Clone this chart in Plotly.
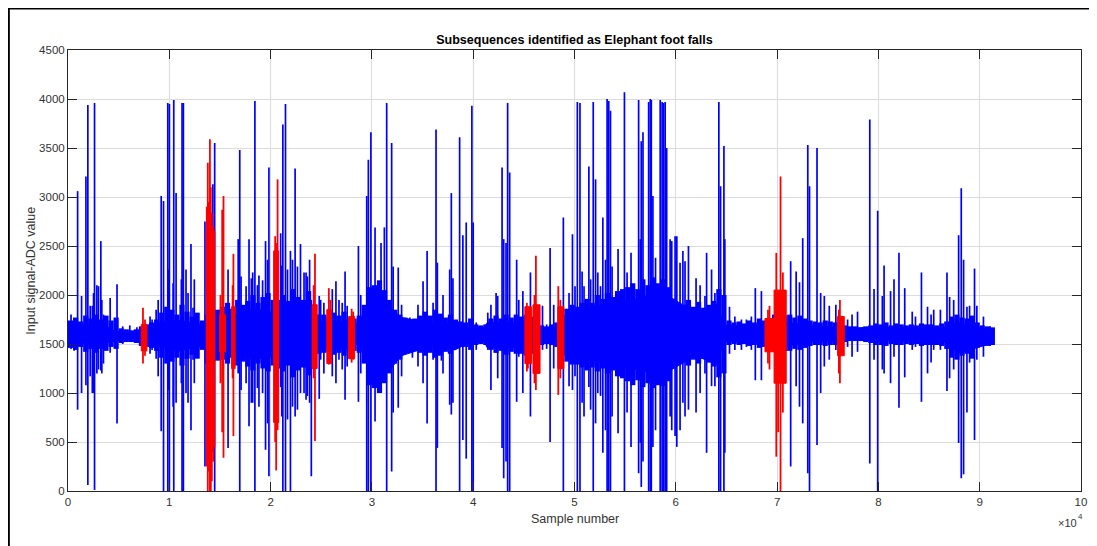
import plotly.graph_objects as go

# ---------------- data ----------------
# solid core of the blue signal (sample number, upper / lower ADC value)
band_x = [0, 1400, 3700, 4600, 5500, 7200, 7800, 9200, 11000, 13100,
          13800, 14500, 16400, 18500, 20300, 21000, 22800, 24300, 24600, 25600,
          27600, 28400, 29200, 30500, 31800, 32900, 35900, 38200, 39500, 41100,
          41400, 45000, 46700, 48300, 49000, 51300, 54500, 57000, 59400, 62000,
          64000, 64800, 68800, 70900, 73400, 76000, 76600, 78900, 86500, 88000,
          89700, 91300]
band_hi = [1690, 1700, 1690, 1630, 1620, 1620, 1670, 1720, 1740, 1700,
           1740, 1790, 1820, 1860, 1820, 1840, 1910, 1840, 1720, 1730,
           1730, 1700, 1800, 1960, 1870, 1770, 1710, 1730, 1670, 1670,
           1720, 1720, 1650, 1660, 1790, 1870, 1920, 1990, 1980, 1820,
           1910, 1690, 1680, 1720, 1690, 1670, 1650, 1670, 1670, 1720,
           1670, 1650]
band_lo = [1500, 1510, 1510, 1530, 1540, 1540, 1510, 1470, 1430, 1480,
           1450, 1410, 1390, 1340, 1380, 1360, 1290, 1370, 1460, 1460,
           1460, 1500, 1450, 1200, 1240, 1380, 1480, 1440, 1510, 1520,
           1460, 1460, 1520, 1520, 1390, 1340, 1270, 1220, 1230, 1380,
           1290, 1520, 1530, 1480, 1520, 1530, 1540, 1530, 1520, 1410,
           1460, 1510]

# per-500-sample extent of the dense oscillation (centre sample, max, min)
hair_x = [250 + 500 * i for i in range(183)]
hair_hi = [1740, 1770, 1730, 1790, 1760, 1800, 1750, 1790, 1740, 1770,
           1660, 1650, 1640, 1650, 1680, 1700, 1720, 1750, 1820, 1880,
           1850, 1800, 1900, 1830, 1780, 1820, 1740, 1800, 1800, 1850,
           1880, 1920, 1860, 1950, 1900, 1940, 2000, 1920, 1980, 2020,
           1950, 1950, 2000, 1940, 2060, 1980, 1950, 2040, 1850, 1800,
           1800, 1780, 1820, 1790, 1830, 1760, 1760, 1790, 1900, 2080,
           2100, 2150, 2050, 1950, 1850, 1800, 1770, 1750, 1760, 1790,
           1830, 1790, 1850, 1810, 1770, 1800, 1750, 1730, 1720, 1760,
           1700, 1690, 1700, 1760, 1790, 1760, 1800, 1770, 1800, 1780,
           1800, 1780, 1800, 1690, 1680, 1700, 1720, 1800, 1860, 1900,
           1880, 1920, 1960, 1920, 2000, 1960, 2020, 1980, 2040, 2060,
           2080, 2120, 2060, 2160, 2100, 2180, 2120, 2160, 2080, 1960,
           1920, 1900, 1950, 1880, 1930, 1870, 1900, 1940, 2060, 2000,
           1740, 1720, 1730, 1710, 1740, 1720, 1760, 1740, 1760, 1800,
           1850, 1790, 1800, 1770, 1790, 1760, 1740, 1730, 1720, 1740,
           1730, 1720, 1740, 1690, 1680, 1680, 1670, 1680, 1690, 1710,
           1700, 1720, 1690, 1710, 1700, 1690, 1700, 1690, 1710, 1700,
           1700, 1690, 1710, 1730, 1780, 1800, 1770, 1760, 1790, 1720,
           1690, 1680, 1670]
hair_lo = [1460, 1440, 1470, 1420, 1450, 1410, 1450, 1430, 1470, 1450,
           1510, 1520, 1520, 1510, 1480, 1470, 1460, 1430, 1360, 1300,
           1320, 1360, 1280, 1350, 1390, 1350, 1440, 1300, 1300, 1330,
           1340, 1300, 1360, 1280, 1320, 1270, 1230, 1300, 1250, 1220,
           1280, 1250, 1220, 1280, 1160, 1230, 1260, 1180, 1350, 1400,
           1410, 1420, 1390, 1410, 1380, 1430, 1430, 1410, 1300, 1080,
           1050, 1000, 1100, 1200, 1300, 1340, 1420, 1450, 1440, 1410,
           1380, 1410, 1360, 1380, 1420, 1400, 1450, 1470, 1470, 1440,
           1490, 1500, 1490, 1440, 1410, 1430, 1390, 1420, 1400, 1400,
           1380, 1400, 1380, 1490, 1500, 1490, 1470, 1380, 1320, 1290,
           1290, 1260, 1230, 1260, 1220, 1250, 1200, 1230, 1170, 1150,
           1120, 1080, 1130, 1060, 1100, 1050, 1080, 1070, 1120, 1250,
           1300, 1320, 1280, 1340, 1300, 1350, 1310, 1270, 1160, 1200,
           1490, 1500, 1490, 1500, 1480, 1490, 1460, 1470, 1450, 1420,
           1350, 1430, 1430, 1450, 1440, 1460, 1480, 1490, 1490, 1480,
           1490, 1490, 1470, 1520, 1530, 1530, 1530, 1520, 1510, 1490,
           1490, 1480, 1500, 1490, 1490, 1500, 1490, 1500, 1480, 1490,
           1490, 1490, 1480, 1450, 1360, 1340, 1380, 1400, 1350, 1460,
           1480, 1480, 1490]

# individual excursions of the blue signal: sample, max, min
spike_x = [300, 600, 950, 1340, 1770, 1960, 2190, 2400, 2520, 2620,
           2850, 3010, 3240, 3340, 3500, 4160, 4840, 5400, 6100, 6800,
           8100, 8300, 8700, 8900, 9200, 9430, 9850, 9950, 10010, 10376,
           10440, 10670, 11190, 11260, 11390, 11650, 11850, 12140, 12340, 12470,
           13520, 14300, 14480, 15800, 16800, 16955, 17085, 17580, 17870, 18100,
           18230, 18450, 18700, 18850, 19210, 19500, 19700, 19835, 20990, 21100,
           21210, 21470, 21670, 21960, 22160, 22420, 22650, 22950, 23300, 23500,
           23630, 23850, 24020, 24800, 24940, 25260, 26090, 26450, 26750, 27070,
           27350, 27560, 28670, 28900, 29490, 29650, 29900, 30310, 30900, 31230,
           31460, 31950, 32100, 32600, 32930, 33750, 34000, 34550, 35050, 35450,
           36040, 36330, 36460, 36860, 37020, 37680, 37840, 38000, 38660, 38980,
           39310, 39870, 40000, 40300, 41440, 41750, 42260, 42420, 42850, 43010,
           43240, 43400, 43600, 44290, 44500, 44900, 45650, 46840, 47250, 47590,
           47950, 48900, 49460, 49800, 50050, 50280, 50540, 50750, 50940, 51420,
           51590, 51850, 52080, 52300, 52570, 52800, 53060, 53220, 53380, 53550,
           53710, 54300, 54930, 55190, 55580, 56330, 56495, 56590, 56760, 57320,
           57480, 57580, 57740, 58000, 58460, 58650, 58790, 58950, 59100, 59440,
           59600, 59930, 60100, 60420, 60700, 60910, 61250, 62000, 62400, 62880,
           63040, 63530, 63860, 64250, 64420, 64750, 64840, 65300, 65830, 66480,
           66970, 67460, 67850, 68450, 71340, 71880, 72210, 72530, 73030, 73200,
           73940, 74300, 74660, 75150, 75800, 76960, 77400, 77940, 78590, 79150,
           79570, 79930, 80390, 80560, 81200, 81540, 82030, 82600, 83340, 83660,
           84250, 84850, 85200, 85460, 86120, 86770, 87030, 87430, 87920, 88180,
           88410, 88740, 89000, 89490, 89720, 90370, 91030]
spike_hi = [1800, 1720, 3060, 1990, 3210, 3940, 1890, 1890, 2020, 3960,
            2100, 2090, 2550, 1950, 1800, 1970, 2110, 1680, 1690, 1670,
            1780, 1750, 1850, 1950, 3010, 2960, 3960, 2260, 3950, 2120,
            3990, 3040, 2160, 3960, 3960, 2260, 2020, 2520, 1870, 2160,
            2750, 3130, 3550, 2260, 2570, 3480, 2190, 2090, 2570, 2170,
            2230, 3980, 2100, 2200, 2150, 2550, 2360, 3300, 2630, 2300,
            3740, 3950, 2260, 2450, 2360, 3290, 2290, 2520, 2230, 2230,
            2190, 2360, 1950, 1990, 1950, 1920, 2060, 2140, 1950, 1920,
            2240, 1890, 2500, 2000, 3010, 3380, 3660, 2690, 2530, 2690,
            3960, 3550, 2290, 2280, 1900, 1770, 1700, 1900, 2140, 2450,
            1920, 3690, 2330, 1750, 2000, 2260, 3040, 2170, 3610, 2610,
            2740, 3930, 2740, 1720, 1820, 1900, 2020, 1990, 3300, 2570,
            2530, 3960, 3250, 2360, 1950, 2040, 2230, 1890, 1700, 2480,
            1900, 2790, 2020, 2620, 2090, 3970, 3960, 2240, 2090, 3310,
            2160, 3970, 3180, 2230, 2090, 2790, 2360, 4000, 3980, 3880,
            2290, 2470, 4070, 2230, 2430, 3990, 2570, 3570, 3660, 3970,
            4000, 3990, 3010, 2380, 3990, 3970, 3960, 3970, 3500, 2570,
            2550, 2600, 2600, 2330, 2450, 2345, 2500, 2170, 2100, 1990,
            2430, 2260, 2020, 3970, 3110, 3520, 2570, 1880, 1780, 1750,
            1750, 1780, 2070, 2040, 2345, 2240, 2130, 2580, 3530, 3110,
            3500, 2020, 1990, 1890, 1900, 1750, 1800, 1830, 1660, 3790,
            2060, 2860, 1990, 2300, 2040, 2160, 2430, 2070, 1830, 1780,
            2230, 1880, 1800, 1850, 1850, 2230, 1980, 1950, 2610, 3090,
            2360, 1880, 1890, 2270, 1890, 1780, 1680]
spike_lo = [1450, 1430, 830, 1000, 1080, 60, 1170, 1000, 1000, 10,
            1200, 1240, 1230, 1200, 1300, 1410, 690, 1500, 1520, 1510,
            1400, 1440, 1350, 1170, 610, 0, 0, 1030, 0, 860,
            0, 900, 1100, 0, 0, 1000, 900, 620, 1340, 1100,
            250, 400, 0, 440, 1200, 0, 1030, 1100, 660, 900,
            900, 0, 1050, 860, 1000, 420, 690, 150, 1060, 760,
            0, 0, 730, 0, 860, 760, 830, 1000, 1000, 930,
            970, 900, 150, 940, 1340, 1200, 1170, 1100, 1340, 1240,
            930, 1270, 910, 1200, 0, 0, 0, 710, 1100, 1150,
            0, 200, 800, 850, 1170, 1410, 1360, 1270, 1100, 690,
            1340, 0, 440, 1330, 1200, 880, 780, 900, 0, 520,
            330, 0, 0, 1440, 1440, 1030, 1410, 1150, 440, 130,
            300, 0, 0, 910, 1370, 1000, 760, 1440, 1450, 500,
            1250, 0, 1070, 1030, 1170, 0, 0, 900, 760, 1060,
            830, 0, 690, 1000, 970, 390, 620, 0, 0, 0,
            760, 590, 0, 800, 450, 180, 490, 40, 300, 0,
            0, 0, 450, 620, 0, 0, 0, 0, 0, 760,
            620, 560, 450, 620, 900, 760, 830, 800, 1000, 1200,
            390, 1070, 1070, 0, 0, 0, 390, 1400, 1440, 1440,
            1470, 1440, 1130, 1130, 250, 1070, 860, 690, 180, 0,
            470, 1000, 1270, 1340, 1440, 1470, 1370, 1420, 1540, 280,
            1340, 0, 1240, 1200, 1100, 1370, 850, 1160, 1440, 1470,
            910, 1200, 1310, 1440, 1440, 1020, 1150, 1240, 490, 130,
            170, 800, 1310, 520, 1340, 1370, 1480]

# subsequences identified as foot falls (red): start, end, upper, lower
red_start = [7230, 13650, 14950, 16150, 20300, 24100, 25550, 27700, 45100, 45900, 48350, 68800, 69700, 75970]
red_end = [7790, 14500, 15550, 16500, 20800, 24600, 26000, 28300, 45750, 46600, 48950, 69700, 70900, 76630]
red_hi = [1700, 2650, 1800, 1880, 2450, 1900, 1850, 1780, 1880, 1900, 1880, 1760, 2050, 1780]
red_lo = [1430, 450, 1420, 1250, 700, 1250, 1300, 1350, 1300, 1200, 1250, 1420, 1100, 1380]

red_spike_x = [7400, 7600, 13700, 13800, 13900, 14010, 14100, 14200, 14350, 15050, 15220, 15350,
               16250, 16330, 20450, 20550, 20690, 24250, 24380, 25750, 25900, 28000, 28150,
               45300, 45400, 46050, 46190, 48400, 48600, 69100, 69250, 69920, 70100, 70340,
               70570, 76100, 76200]
red_spike_hi = [1870, 1750, 2900, 3350, 2950, 3590, 3100, 2840, 2700, 2000, 2870, 3010,
                2100, 2420, 2600, 2530, 3180, 2100, 2420, 2070, 1950, 1860, 1830,
                1920, 1880, 2000, 2400, 2090, 1950, 1850, 1890, 2430, 2000, 3210,
                2230, 1850, 1950]
red_spike_lo = [1300, 1380, 250, 0, 200, 0, 0, 100, 300, 1100, 600, 340,
                1150, 560, 500, 210, 620, 1150, 510, 1290, 1330, 1310, 1340,
                1220, 1250, 1100, 1030, 980, 1150, 1300, 1240, 350, 600, 0,
                800, 1200, 1100]

x_tick_vals = [0, 10000, 20000, 30000, 40000, 50000, 60000, 70000, 80000, 90000, 100000]
x_tick_text = ["0", "1", "2", "3", "4", "5", "6", "7", "8", "9", "10"]
y_tick_vals = [0, 500, 1000, 1500, 2000, 2500, 3000, 3500, 4000, 4500]

BLUE = "#0000FF"
RED = "#FF0000"


def envelope_polygon(xv, hi, lo):
    return list(xv) + list(xv)[::-1], list(hi) + list(lo)[::-1]


def separate_polygons(starts, ends, his, los):
    xs, ys = [], []
    for s, e, h, l in zip(starts, ends, his, los):
        xs += [s, e, e, s, s, None]
        ys += [h, h, l, l, h, None]
    return xs, ys


def vlines(xv, hi, lo):
    xs, ys = [], []
    for x, h, l in zip(xv, hi, lo):
        xs += [x, x, None]
        ys += [l, h, None]
    return xs, ys


fig = go.Figure()

bx, by = envelope_polygon(band_x, band_hi, band_lo)
fig.add_trace(go.Scatter(x=bx, y=by, mode="lines", fill="toself", fillcolor=BLUE,
                         line=dict(color=BLUE, width=1), hoverinfo="skip", showlegend=False))
hx, hy = vlines(hair_x, hair_hi, hair_lo)
fig.add_trace(go.Scatter(x=hx, y=hy, mode="lines", line=dict(color=BLUE, width=5.2),
                         hoverinfo="skip", showlegend=False))
sx, sy = vlines(spike_x, spike_hi, spike_lo)
fig.add_trace(go.Scatter(x=sx, y=sy, mode="lines", line=dict(color=BLUE, width=1.7),
                         hoverinfo="skip", showlegend=False))

rx, ry = separate_polygons(red_start, red_end, red_hi, red_lo)
fig.add_trace(go.Scatter(x=rx, y=ry, mode="lines", fill="toself", fillcolor=RED,
                         line=dict(color=RED, width=1), hoverinfo="skip", showlegend=False))
rsx, rsy = vlines(red_spike_x, red_spike_hi, red_spike_lo)
fig.add_trace(go.Scatter(x=rsx, y=rsy, mode="lines", line=dict(color=RED, width=1.8),
                         hoverinfo="skip", showlegend=False))

FONT = "Liberation Sans, Arial, sans-serif"
AX = "#262626"
TXT = "#333333"

# page body has an 8px margin: figure is sized so the plot lands where the reference has it
fig.update_layout(
    width=1089, height=538,
    margin=dict(l=60, r=10, t=42, b=55),
    paper_bgcolor="white", plot_bgcolor="white",
    font=dict(family=FONT, size=11, color=AX),
    title=dict(text="Subsequences identified as Elephant foot falls", x=0.5, xref="paper",
               xanchor="center", y=1 - 32 / 538, yref="container", yanchor="middle",
               font=dict(size=12.5, color="black", family=FONT, weight="bold")),
    xaxis=dict(range=[0, 100000], tickvals=x_tick_vals, ticktext=x_tick_text,
               showgrid=True, gridcolor="#dcdcdc", gridwidth=1, zeroline=False,
               showline=True, linecolor=AX, linewidth=1, mirror="ticks",
               ticks="inside", ticklen=9, tickcolor=AX, tickfont=dict(size=11.5, color=TXT)),
    yaxis=dict(range=[0, 4500], tickvals=y_tick_vals,
               showgrid=True, gridcolor="#dcdcdc", gridwidth=1, zeroline=False,
               showline=True, linecolor=AX, linewidth=1, mirror="ticks",
               ticks="inside", ticklen=9, tickcolor=AX, tickfont=dict(size=11.5, color=TXT)),
    annotations=[
        dict(text="Sample number", x=0.5, y=-0.0635, xref="paper", yref="paper",
             xanchor="center", yanchor="middle", showarrow=False,
             font=dict(size=12.5, color=TXT, family=FONT)),
        dict(text="Input signal-ADC value", x=-0.0373, y=0.5, xref="paper", yref="paper",
             xanchor="center", yanchor="middle", textangle=-90, showarrow=False,
             font=dict(size=12.5, color=TXT, family=FONT)),
        dict(text="\u00d710", x=0.998, y=-0.072, xref="paper", yref="paper",
             xanchor="right", yanchor="middle", showarrow=False,
             font=dict(size=11, color=TXT, family=FONT)),
        dict(text="4", x=0.998, y=-0.057, xref="paper", yref="paper", xshift=-3,
             xanchor="left", yanchor="middle", showarrow=False,
             font=dict(size=8, color=TXT, family=FONT)),
    ],
    shapes=[dict(type="rect", xref="paper", yref="paper", x0=-0.0584, x1=1.06,
                 y0=-0.2, y1=1.094, line=dict(color="black", width=2),
                 fillcolor="rgba(0,0,0,0)", layer="above")],
)

fig.write_html("out.html")
